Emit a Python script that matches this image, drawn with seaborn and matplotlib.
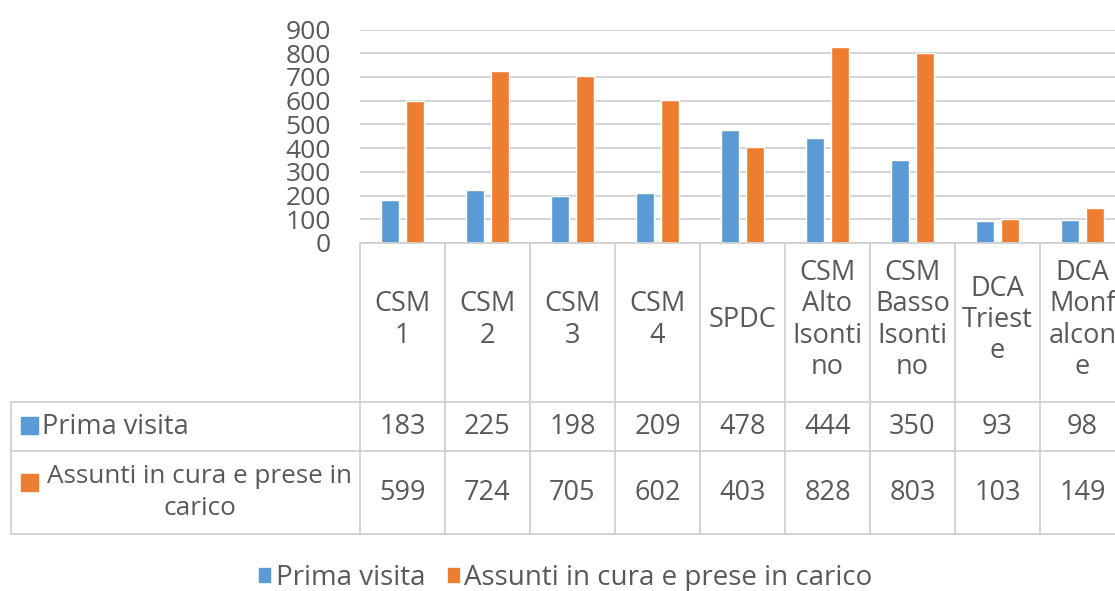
import seaborn as sns
import numpy as np
import pandas as pd
import matplotlib.pyplot as plt
from matplotlib.patches import Rectangle

categories = ['CSM 1', 'CSM 2', 'CSM 3', 'CSM 4', 'SPDC',
              'CSM Alto Isontino', 'CSM Basso Isontino', 'DCA Trieste', 'DCA Monfalcone']
# the way Excel wrapped the names inside the data table cells
header_labels = ['CSM\n1', 'CSM\n2', 'CSM\n3', 'CSM\n4', 'SPDC',
                 'CSM\nAlto\nIsonti\nno', 'CSM\nBasso\nIsonti\nno', 'DCA\nTriest\ne', 'DCA\nMonf\nalcon\ne']
series = ['Prima visita', 'Assunti in cura e prese in carico']
prima_visita = [183, 225, 198, 209, 478, 444, 350, 93, 98]
assunti = [599, 724, 705, 602, 403, 828, 803, 103, 149]
y_ticks = list(range(0, 901, 100))

blue = '#5B9BD5'
orange = '#ED7D31'
text_col = '#595959'
line_col = '#D0D0D0'

sns.set_theme(style='white')
plt.rcParams['font.family'] = ['Open Sans', 'DejaVu Sans']

df = pd.DataFrame({
    'categoria': categories * 2,
    'serie': [series[0]] * len(categories) + [series[1]] * len(categories),
    'valore': prima_visita + assunti,
})

W, H = 1115, 591
fig = plt.figure(figsize=(W / 100, H / 100), dpi=100)

# chart area, pixel box 360..1115 x 29..243
ax = fig.add_axes([360 / W, (H - 243) / H, (W - 360) / W, (243 - 29.5) / H])
sns.barplot(data=df, x='categoria', y='valore', hue='serie', order=categories,
            hue_order=series, palette=[blue, orange], width=0.58, gap=0.28,
            saturation=1, legend=False, ax=ax)
ax.set_xlim(-0.5, -0.5 + 755 / 85)
ax.set_ylim(0, 900)
ax.set_yticks(y_ticks)
ax.set_yticklabels([str(v) for v in y_ticks], fontsize=19, color=text_col)
ax.tick_params(axis='y', length=0, pad=21)
ax.set_xticks([])
ax.set_xlabel('')
ax.set_ylabel('')
ax.yaxis.grid(True, color=line_col, linewidth=1.3)
ax.set_axisbelow(True)
for s in ax.spines.values():
    s.set_visible(False)

# data table below the chart
tx = fig.add_axes([11 / W, (H - 534) / H, (W - 11) / W, (534 - 243) / H])
tx.set_xlim(-0.5 - 349 / 85, -0.5 + 755 / 85)
tx.set_ylim(291, 0)
tx.axis('off')
x_left = -0.5 - 349 / 85
rows = [0, 159, 208, 291]
lk = dict(color=line_col, linewidth=1.3, clip_on=False)
tx.plot([-0.5, 9], [0, 0], **lk)
for yy in rows[1:]:
    tx.plot([x_left, 9], [yy, yy], **lk)
tx.plot([x_left, x_left], [rows[1], rows[3]], **lk)
for i in range(len(categories) + 1):
    tx.plot([i - 0.5, i - 0.5], [0, rows[3]], **lk)

fs = 19.5
for i, lab in enumerate(header_labels):
    tx.text(i, 77, lab, ha='center', va='center', fontsize=fs, color=text_col,
            linespacing=1.16)
    tx.text(i, (rows[1] + rows[2]) / 2, str(prima_visita[i]), ha='center', va='center',
            fontsize=fs, color=text_col)
    tx.text(i, (rows[2] + rows[3]) / 2, str(assunti[i]), ha='center', va='center',
            fontsize=fs, color=text_col)

px = 1 / 85  # one pixel in table x units
tx.add_patch(Rectangle((x_left + 10 * px, 174), 17 * px, 17, color=blue))
tx.text(x_left + 31 * px, (rows[1] + rows[2]) / 2, series[0], ha='left', va='center',
        fontsize=fs, color=text_col)
tx.add_patch(Rectangle((x_left + 10 * px, 231), 17 * px, 17, color=orange))
tx.text(x_left + 189 * px, (rows[2] + rows[3]) / 2, 'Assunti in cura e prese in\ncarico',
        ha='center', va='center', multialignment='center', fontsize=18.8,
        color=text_col, linespacing=1.38)

# legend at the bottom
handles = [Rectangle((0, 0), 1, 1, color=blue), Rectangle((0, 0), 1, 1, color=orange)]
fig.legend(handles, series, loc='center', bbox_to_anchor=(566 / W, (H - 578) / H),
           ncol=2, frameon=False, fontsize=20, handlelength=0.4, handleheight=0.4,
           handletextpad=0.2, columnspacing=0.8, labelcolor=text_col)

fig.savefig('out.png', dpi=100)
